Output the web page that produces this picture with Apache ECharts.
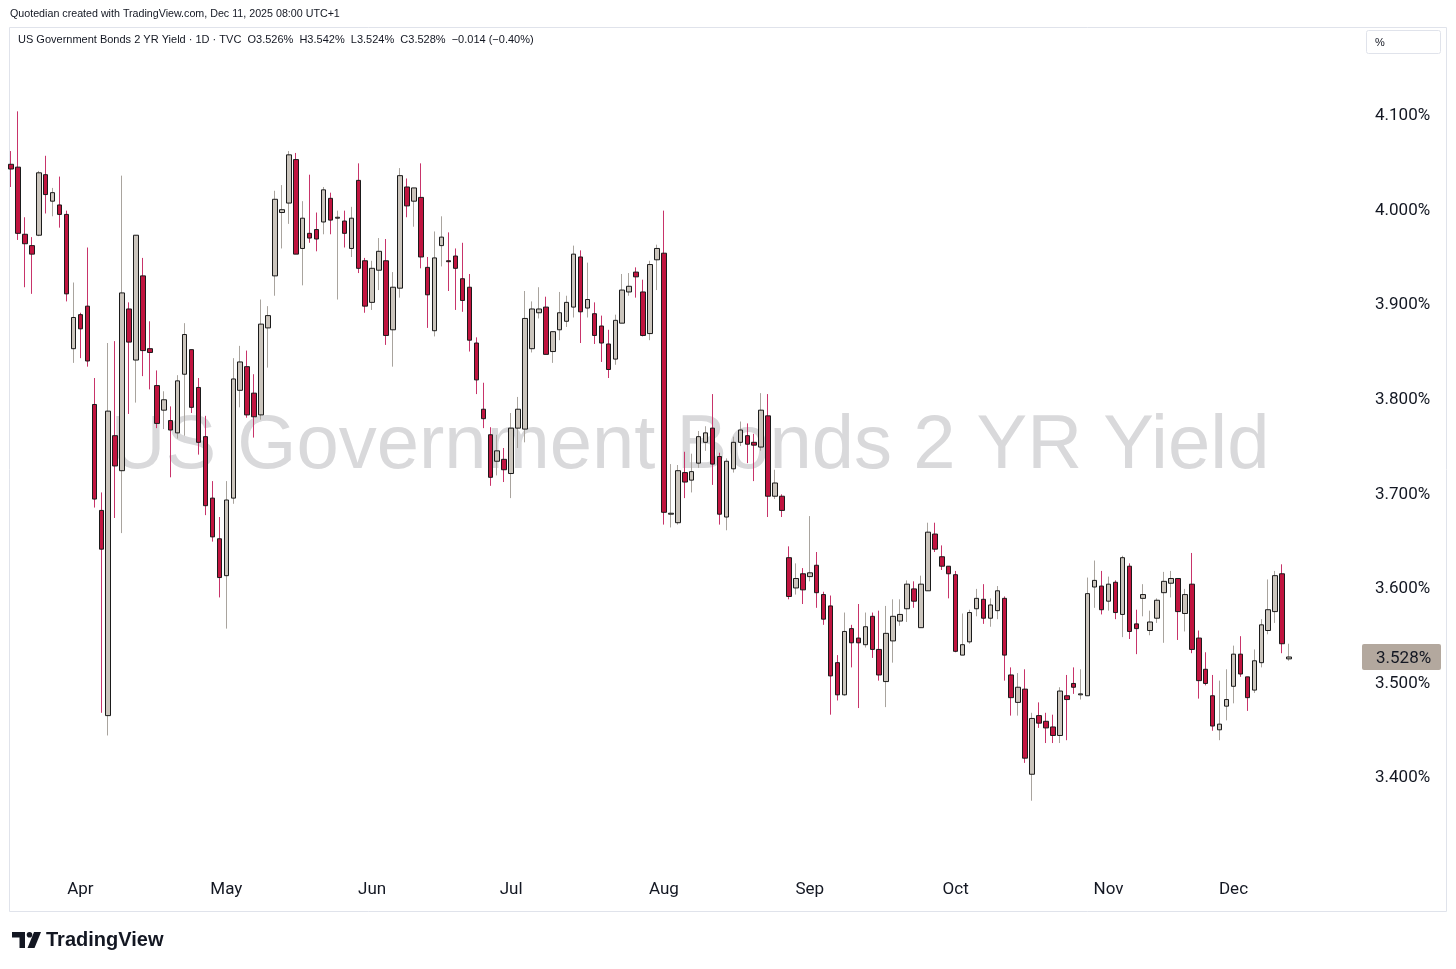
<!DOCTYPE html>
<html>
<head>
<meta charset="utf-8">
<title>US Government Bonds 2 YR Yield</title>
<script src="https://cdn.jsdelivr.net/npm/echarts@6/dist/echarts.min.js"></script>
<style>
  html, body { margin: 0; padding: 0; background: #fff; }
  #chart { width: 1456px; height: 969px; }
</style>
</head>
<body>
<div id="chart"></div>
<script>
// trading calendar: weekdays from 18 Mar to 11 Dec 2025, minus US bond market holidays
const startDay = '2025-03-18'
const endDay = '2025-12-11'
const holidays = ['2025-04-18', '2025-05-26', '2025-06-19', '2025-07-04',
  '2025-09-01', '2025-10-13', '2025-11-11', '2025-11-27']
const monthNames = ['Jan', 'Feb', 'Mar', 'Apr', 'May', 'Jun', 'Jul', 'Aug', 'Sep', 'Oct', 'Nov', 'Dec']
const yTicks = [3.4, 3.5, 3.6, 3.7, 3.8, 3.9, 4.0, 4.1]

// daily candles (%)
const openVals = [
  4.049, 4.046, 3.975, 3.963, 3.974, 4.038, 4.010, 4.006, 3.996, 3.854,
  3.890, 3.899, 3.795, 3.683, 3.466, 3.762, 3.725, 3.896, 3.842, 3.931,
  3.854, 3.815, 3.789, 3.778, 3.765, 3.827, 3.853, 3.813, 3.761, 3.696,
  3.653, 3.614, 3.696, 3.810, 3.835, 3.807, 3.784, 3.876, 3.931, 3.998,
  4.008, 4.054, 3.960, 3.976, 3.980, 3.988, 4.013, 3.992, 3.989, 3.960,
  4.032, 3.947, 3.903, 3.937, 3.947, 3.874, 3.918, 4.025, 4.010, 4.014,
  3.940, 3.873, 3.963, 3.947, 3.952, 3.928, 3.919, 3.860, 3.790, 3.763,
  3.735, 3.737, 3.722, 3.770, 3.769, 3.854, 3.892, 3.898, 3.851, 3.874,
  3.883, 3.898, 3.951, 3.897, 3.891, 3.878, 3.859, 3.843, 3.881, 3.914,
  3.935, 3.914, 3.870, 3.948, 3.955, 3.679, 3.670, 3.723, 3.715, 3.733,
  3.755, 3.770, 3.740, 3.676, 3.727, 3.755, 3.762, 3.755, 3.750, 3.783,
  3.698, 3.698, 3.633, 3.601, 3.616, 3.613, 3.625, 3.594, 3.582, 3.522,
  3.488, 3.558, 3.548, 3.541, 3.571, 3.536, 3.502, 3.545, 3.566, 3.579,
  3.600, 3.559, 3.598, 3.658, 3.634, 3.624, 3.615, 3.530, 3.544, 3.579,
  3.589, 3.569, 3.577, 3.590, 3.509, 3.480, 3.494, 3.404, 3.466, 3.460,
  3.454, 3.445, 3.487, 3.500, 3.488, 3.487, 3.602, 3.603, 3.587, 3.607,
  3.573, 3.624, 3.563, 3.590, 3.556, 3.569, 3.596, 3.606, 3.611, 3.574,
  3.605, 3.548, 3.515, 3.487, 3.451, 3.476, 3.497, 3.531, 3.507, 3.493,
  3.522, 3.556, 3.576, 3.616, 3.526
]
const highVals = [
  4.063, 4.105, 3.993, 3.972, 4.042, 4.058, 4.024, 4.036, 4.000, 3.924,
  3.892, 3.961, 3.823, 3.702, 3.860, 3.862, 4.037, 3.903, 3.974, 3.950,
  3.883, 3.831, 3.809, 3.793, 3.826, 3.881, 3.853, 3.823, 3.783, 3.714,
  3.676, 3.714, 3.844, 3.857, 3.852, 3.827, 3.906, 3.899, 4.021, 4.027,
  4.063, 4.061, 4.010, 4.038, 3.998, 4.025, 4.019, 4.000, 4.000, 4.004,
  4.050, 3.950, 3.947, 3.971, 3.970, 3.935, 4.045, 4.034, 4.024, 4.050,
  3.951, 3.978, 3.994, 3.977, 3.960, 3.966, 3.933, 3.866, 3.818, 3.771,
  3.763, 3.749, 3.786, 3.803, 3.915, 3.904, 3.919, 3.909, 3.872, 3.914,
  3.910, 3.963, 3.958, 3.945, 3.903, 3.889, 3.874, 3.890, 3.933, 3.934,
  3.940, 3.927, 3.947, 3.964, 4.000, 3.732, 3.731, 3.745, 3.743, 3.767,
  3.772, 3.806, 3.744, 3.738, 3.761, 3.777, 3.775, 3.764, 3.807, 3.806,
  3.726, 3.700, 3.645, 3.627, 3.622, 3.677, 3.639, 3.597, 3.593, 3.530,
  3.575, 3.562, 3.584, 3.575, 3.575, 3.577, 3.582, 3.589, 3.589, 3.609,
  3.608, 3.614, 3.670, 3.670, 3.646, 3.624, 3.619, 3.574, 3.578, 3.600,
  3.605, 3.590, 3.603, 3.592, 3.517, 3.511, 3.515, 3.469, 3.480, 3.469,
  3.467, 3.496, 3.509, 3.517, 3.515, 3.612, 3.630, 3.619, 3.613, 3.609,
  3.635, 3.627, 3.578, 3.605, 3.577, 3.590, 3.618, 3.619, 3.611, 3.600,
  3.638, 3.556, 3.533, 3.509, 3.503, 3.515, 3.540, 3.550, 3.507, 3.536,
  3.568, 3.610, 3.619, 3.626, 3.542
]
const lowVals = [
  4.025, 3.969, 3.919, 3.912, 3.973, 3.997, 3.994, 3.982, 3.904, 3.839,
  3.844, 3.835, 3.686, 3.469, 3.445, 3.675, 3.659, 3.785, 3.797, 3.825,
  3.811, 3.770, 3.769, 3.718, 3.759, 3.762, 3.786, 3.742, 3.678, 3.650,
  3.591, 3.558, 3.690, 3.792, 3.781, 3.760, 3.779, 3.834, 3.910, 3.960,
  3.986, 3.954, 3.921, 3.966, 3.957, 3.975, 3.975, 3.906, 3.961, 3.951,
  3.934, 3.892, 3.895, 3.916, 3.858, 3.835, 3.908, 3.993, 3.983, 3.939,
  3.876, 3.867, 3.941, 3.915, 3.895, 3.893, 3.851, 3.806, 3.770, 3.709,
  3.720, 3.713, 3.696, 3.749, 3.755, 3.850, 3.886, 3.848, 3.839, 3.863,
  3.877, 3.887, 3.860, 3.887, 3.859, 3.840, 3.823, 3.837, 3.881, 3.910,
  3.908, 3.867, 3.863, 3.916, 3.668, 3.665, 3.668, 3.696, 3.702, 3.728,
  3.746, 3.710, 3.668, 3.662, 3.723, 3.751, 3.733, 3.714, 3.746, 3.676,
  3.695, 3.676, 3.589, 3.594, 3.584, 3.608, 3.580, 3.562, 3.467, 3.482,
  3.487, 3.517, 3.474, 3.538, 3.527, 3.503, 3.475, 3.522, 3.561, 3.565,
  3.580, 3.559, 3.598, 3.639, 3.620, 3.590, 3.533, 3.530, 3.542, 3.571,
  3.563, 3.560, 3.568, 3.503, 3.466, 3.466, 3.416, 3.376, 3.453, 3.437,
  3.437, 3.437, 3.440, 3.489, 3.483, 3.487, 3.580, 3.573, 3.577, 3.568,
  3.549, 3.547, 3.531, 3.571, 3.551, 3.564, 3.543, 3.591, 3.546, 3.555,
  3.532, 3.484, 3.498, 3.450, 3.440, 3.461, 3.479, 3.507, 3.471, 3.490,
  3.517, 3.552, 3.564, 3.532, 3.524
]
const closeVals = [
  4.044, 3.976, 3.965, 3.954, 4.040, 4.017, 4.019, 3.996, 3.912, 3.887,
  3.875, 3.841, 3.695, 3.642, 3.788, 3.730, 3.913, 3.861, 3.974, 3.852,
  3.850, 3.775, 3.800, 3.768, 3.820, 3.869, 3.792, 3.755, 3.688, 3.655,
  3.612, 3.694, 3.822, 3.840, 3.784, 3.782, 3.880, 3.889, 4.012, 4.001,
  4.059, 3.954, 3.992, 3.971, 3.970, 4.022, 3.990, 3.993, 3.976, 3.992,
  3.939, 3.899, 3.939, 3.957, 3.868, 3.919, 4.037, 4.005, 4.024, 3.951,
  3.911, 3.950, 3.972, 3.946, 3.939, 3.905, 3.863, 3.821, 3.780, 3.718,
  3.746, 3.726, 3.770, 3.790, 3.886, 3.896, 3.896, 3.848, 3.872, 3.892,
  3.903, 3.954, 3.893, 3.906, 3.868, 3.860, 3.832, 3.884, 3.916, 3.920,
  3.930, 3.868, 3.943, 3.960, 3.681, 3.680, 3.725, 3.713, 3.724, 3.761,
  3.765, 3.732, 3.679, 3.735, 3.755, 3.768, 3.753, 3.752, 3.789, 3.698,
  3.712, 3.683, 3.592, 3.611, 3.599, 3.617, 3.596, 3.568, 3.508, 3.488,
  3.555, 3.543, 3.543, 3.560, 3.536, 3.509, 3.553, 3.571, 3.573, 3.605,
  3.587, 3.605, 3.660, 3.642, 3.624, 3.616, 3.534, 3.541, 3.575, 3.590,
  3.569, 3.583, 3.598, 3.530, 3.485, 3.496, 3.421, 3.463, 3.458, 3.453,
  3.445, 3.492, 3.483, 3.496, 3.489, 3.595, 3.609, 3.578, 3.605, 3.575,
  3.633, 3.555, 3.558, 3.594, 3.565, 3.588, 3.608, 3.611, 3.576, 3.594,
  3.536, 3.503, 3.500, 3.455, 3.457, 3.483, 3.531, 3.510, 3.485, 3.524,
  3.562, 3.578, 3.614, 3.542, 3.528
]

const UP_FILL = '#cbc5bd'
const UP_WICK = '#a9a49e'
const DOWN_FILL = '#c0143f'
const DOWN_WICK = '#c8346a'
const EDGE = '#1b1b1b'
const TEXT = '#131722'
const FRAME = '#e0e3eb'
const FONT = 'Roboto, "Liberation Sans", sans-serif'
const PAD = 10 // empty bars right of the last candle

const iso = d => d.toISOString().slice(0, 10)
const dates = []
for (let d = new Date(startDay + 'T00:00:00Z'); iso(d) <= endDay; d.setUTCDate(d.getUTCDate() + 1)) {
  const wd = d.getUTCDay()
  if (wd === 0 || wd === 6 || holidays.includes(iso(d))) continue
  dates.push(iso(d))
}
const categories = dates.concat(Array.from({ length: PAD }, (_, i) => 'pad' + i))

const wickData = dates.map((_, i) => [openVals[i], closeVals[i], lowVals[i], highVals[i]])
const bodyData = dates.map((_, i) => [
  openVals[i], closeVals[i],
  Math.min(openVals[i], closeVals[i]), Math.max(openVals[i], closeVals[i])
])

const chart = echarts.init(document.getElementById('chart'), null, { renderer: 'canvas' })

const isMonthStart = (idx, val) => {
  if (idx === 0 || idx >= dates.length) return false
  return dates[idx - 1].slice(5, 7) !== val.slice(5, 7)
}

const option = {
  animation: false,
  backgroundColor: '#fff',
  grid: { left: 7.5, right: 94, top: 21.5, bottom: 96.4 },
  xAxis: {
    type: 'category',
    data: categories,
    boundaryGap: true,
    axisLine: { show: false },
    axisTick: { show: false },
    splitLine: { show: false },
    axisLabel: {
      interval: isMonthStart,
      formatter: v => monthNames[+v.slice(5, 7) - 1],
      color: TEXT,
      fontSize: 17,
      fontFamily: FONT,
      margin: 9
    }
  },
  yAxis: {
    type: 'value',
    position: 'right',
    min: 3.3,
    max: 4.2,
    interval: 0.1,
    scale: true,
    axisLine: { show: false },
    axisTick: { show: false },
    splitLine: { show: false },
    axisLabel: {
      showMinLabel: false,
      showMaxLabel: false,
      formatter: v => yTicks.some(t => Math.abs(t - v) < 1e-6) ? v.toFixed(3) + '%' : '',
      color: TEXT,
      fontSize: 17,
      fontFamily: FONT,
      padding: [3, 0, 0, 0],
      margin: 13
    }
  },
  series: [
    {
      name: 'wick',
      type: 'candlestick',
      data: wickData,
      barWidth: 1,
      z: 3,
      itemStyle: {
        color: UP_WICK,
        color0: DOWN_WICK,
        borderColor: UP_WICK,
        borderColor0: DOWN_WICK,
        borderWidth: 1
      }
    },
    {
      name: 'body',
      type: 'candlestick',
      data: bodyData,
      barWidth: 5,
      z: 4,
      itemStyle: {
        color: UP_FILL,
        color0: DOWN_FILL,
        borderColor: EDGE,
        borderColor0: EDGE,
        borderWidth: 1
      }
    }
  ]
}

chart.setOption(option)

// price tag for the last close, placed through the axis scale
const lastClose = closeVals[closeVals.length - 1]
const tagY = chart.convertToPixel({ yAxisIndex: 0 }, lastClose)

chart.setOption({
  graphic: [
    {
      type: 'rect', z: 0, silent: true,
      shape: { x: 9.5, y: 27.5, width: 1437, height: 884 },
      style: { fill: null, stroke: FRAME, lineWidth: 1 }
    },
    {
      type: 'text', z: 1, silent: true,
      x: 690, y: 447,
      style: {
        text: 'US Government Bonds 2 YR Yield',
        fill: '#d9d9db',
        font: '76px "Liberation Sans", Arial, sans-serif',
        textAlign: 'center',
        textVerticalAlign: 'middle'
      }
    },
    {
      type: 'text', z: 10, x: 10, y: 14,
      style: {
        text: 'Quotedian created with TradingView.com, Dec 11, 2025 08:00 UTC+1',
        fill: TEXT, font: '10.7px "Liberation Sans", Arial, sans-serif',
        textVerticalAlign: 'middle'
      }
    },
    {
      type: 'text', z: 10, x: 18, y: 40,
      style: {
        text: 'US Government Bonds 2 YR Yield \u00b7 1D \u00b7 TVC  O3.526%  H3.542%  L3.524%  C3.528%  \u22120.014 (\u22120.40%)',
        fill: TEXT, font: '11px "Liberation Sans", Arial, sans-serif',
        textVerticalAlign: 'middle'
      }
    },
    {
      type: 'rect', z: 10,
      shape: { x: 1366.5, y: 30.5, width: 74, height: 23, r: 2 },
      style: { fill: '#fff', stroke: FRAME, lineWidth: 1 }
    },
    {
      type: 'text', z: 11, x: 1375, y: 43,
      style: { text: '%', fill: TEXT, font: '11px "Liberation Sans", Arial, sans-serif', textVerticalAlign: 'middle' }
    },
    {
      type: 'rect', z: 10,
      shape: { x: 1362, y: tagY - 13, width: 79, height: 26, r: 2 },
      style: { fill: '#b3a89e' }
    },
    {
      type: 'text', z: 11, x: 1376, y: tagY + 1.5,
      style: { text: lastClose.toFixed(3) + '%', fill: TEXT, font: '17px ' + FONT, textVerticalAlign: 'middle' }
    },
    // TradingView logo
    {
      type: 'polygon', z: 10,
      shape: { points: [[12, 932], [25, 932], [25, 948], [19.5, 948], [19.5, 937.5], [12, 937.5]] },
      style: { fill: TEXT }
    },
    {
      type: 'circle', z: 10,
      shape: { cx: 29.5, cy: 934.8, r: 2.8 },
      style: { fill: TEXT }
    },
    {
      type: 'polygon', z: 10,
      shape: { points: [[34, 932], [41, 932], [34.5, 948], [27.5, 948]] },
      style: { fill: TEXT }
    },
    {
      type: 'text', z: 10, x: 46, y: 940,
      style: {
        text: 'TradingView', fill: TEXT,
        font: 'bold 20px "Liberation Sans", Arial, sans-serif',
        textVerticalAlign: 'middle'
      }
    }
  ]
})

window.addEventListener('resize', () => {
  chart.resize()
})
</script>
</body>
</html>
